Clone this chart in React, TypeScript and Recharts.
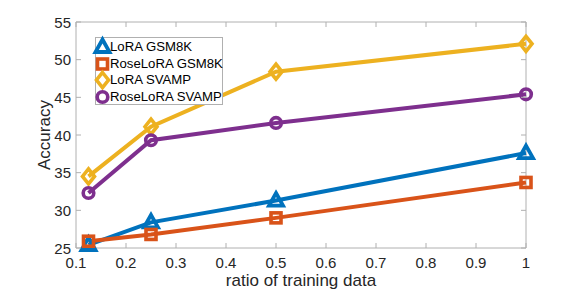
import React from "react";
import { LineChart, Line, XAxis, YAxis, ReferenceLine, Legend } from "recharts";

const ratios = [0.125, 0.25, 0.5, 1];
const loraGsm8k = [25.4, 28.4, 31.3, 37.6];
const roseGsm8k = [25.9, 26.8, 29.0, 33.7];
const loraSvamp = [34.5, 41.1, 48.4, 52.1];
const roseSvamp = [32.3, 39.3, 41.6, 45.4];
const xTicks = [0.1, 0.2, 0.3, 0.4, 0.5, 0.6, 0.7, 0.8, 0.9, 1];
const yTicks = [25, 30, 35, 40, 45, 50, 55];

const data = ratios.map((r, i) => ({
  x: r,
  loraGsm8k: loraGsm8k[i],
  roseGsm8k: roseGsm8k[i],
  loraSvamp: loraSvamp[i],
  roseSvamp: roseSvamp[i],
}));

const W = 581;
const H = 291;
const M = { top: 22, right: 55, bottom: 0, left: 0 };
const YW = 76;
const XH = 43;
const PLOT_W = W - M.left - M.right - YW;
const PLOT_H = H - M.top - M.bottom - XH;

const AXIS = "#b0b0b0";
const TXT = "#262626";
const FONT = "'Liberation Sans', Arial, Helvetica, sans-serif";

const C_BLUE = "#0072BD";
const C_ORANGE = "#D95319";
const C_YELLOW = "#EDB120";
const C_PURPLE = "#7E2F8E";

type Kind = "tri" | "sq" | "dia" | "cir";

function Marker({ kind, cx, cy, color }: { kind: Kind; cx: number; cy: number; color: string }) {
  const sw = 3.6;
  if (kind === "tri") {
    return (
      <path
        d={`M${cx},${cy - 7.5} L${cx + 7},${cy + 5} L${cx - 7},${cy + 5} Z`}
        fill="none"
        stroke={color}
        strokeWidth={3.8}
        strokeLinejoin="miter"
      />
    );
  }
  if (kind === "sq") {
    return <rect x={cx - 5} y={cy - 5} width={10} height={10} fill="none" stroke={color} strokeWidth={sw} />;
  }
  if (kind === "dia") {
    return (
      <path
        d={`M${cx},${cy - 7.5} L${cx + 6},${cy} L${cx},${cy + 7.5} L${cx - 6},${cy} Z`}
        fill="none"
        stroke={color}
        strokeWidth={sw}
      />
    );
  }
  return <circle cx={cx} cy={cy} r={5.3} fill="none" stroke={color} strokeWidth={sw} />;
}

const makeDot = (kind: Kind, color: string) => (props: any) => {
  const { cx, cy, index } = props;
  if (cx == null || cy == null) return <g key={index} />;
  return (
    <g key={`${kind}-${index}`}>
      <Marker kind={kind} cx={cx} cy={cy} color={color} />
    </g>
  );
};

const XTick = (props: any) => {
  const { x, y, payload } = props;
  return (
    <g>
      <line x1={x} y1={y} x2={x} y2={y - 5} stroke={AXIS} strokeWidth={1} />
      <line x1={x} y1={y - PLOT_H} x2={x} y2={y - PLOT_H + 5} stroke={AXIS} strokeWidth={1} />
      <text x={x} y={y + 20} textAnchor="middle" fill={TXT} fontSize={15} fontFamily={FONT}>
        {String(payload.value)}
      </text>
    </g>
  );
};

const YTick = (props: any) => {
  const { x, y, payload } = props;
  return (
    <g>
      <line x1={x} y1={y} x2={x + 5} y2={y} stroke={AXIS} strokeWidth={1} />
      <line x1={x + PLOT_W} y1={y} x2={x + PLOT_W - 5} y2={y} stroke={AXIS} strokeWidth={1} />
      <text x={x - 5} y={y + 5.5} textAnchor="end" fill={TXT} fontSize={15} fontFamily={FONT}>
        {String(payload.value)}
      </text>
    </g>
  );
};

const legendItems: { name: string; kind: Kind; color: string }[] = [
  { name: "LoRA GSM8K", kind: "tri", color: C_BLUE },
  { name: "RoseLoRA GSM8K", kind: "sq", color: C_ORANGE },
  { name: "LoRA SVAMP", kind: "dia", color: C_YELLOW },
  { name: "RoseLoRA SVAMP", kind: "cir", color: C_PURPLE },
];

const LegendBox = () => (
  <div
    style={{
      position: "relative",
      width: 128,
      height: 68,
      border: `1px solid ${AXIS}`,
      background: "#fff",
      boxSizing: "border-box",
    }}
  >
    {legendItems.map((it, i) => (
      <div
        key={it.name}
        style={{
          position: "absolute",
          left: 0,
          top: 1 + i * 16.5,
          height: 16,
          width: 130,
        }}
      >
        <svg width={20} height={18} style={{ position: "absolute", left: -3, top: -1, overflow: "visible" }}>
          <Marker kind={it.kind} cx={9.5} cy={9} color={it.color} />
        </svg>
        <span
          style={{
            position: "absolute",
            left: 14,
            top: 0,
            lineHeight: "16px",
            fontSize: 13.2,
            fontFamily: FONT,
            color: "#000",
            whiteSpace: "nowrap",
          }}
        >
          {it.name}
        </span>
      </div>
    ))}
  </div>
);

export default function App() {
  return (
    <div style={{ position: "absolute", left: 0, top: 0, width: W, height: H, background: "#fff" }}>
      <LineChart width={W} height={H} data={data} margin={M}>
        <XAxis
          dataKey="x"
          type="number"
          domain={[0.1, 1]}
          ticks={xTicks}
          interval={0}
          height={XH}
          tickSize={0}
          tickMargin={0}
          tickLine={false}
          axisLine={{ stroke: AXIS }}
          tick={<XTick />}
          label={{
            content: (p: any) => {
              const vb = p.viewBox || {};
              return (
                <text
                  x={vb.x + vb.width / 2}
                  y={vb.y + 38}
                  textAnchor="middle"
                  fill={TXT}
                  fontSize={17}
                  fontFamily={FONT}
                >
                  ratio of training data
                </text>
              );
            },
          }}
        />
        <YAxis
          type="number"
          domain={[25, 55]}
          ticks={yTicks}
          interval={0}
          width={YW}
          tickSize={0}
          tickMargin={0}
          tickLine={false}
          axisLine={{ stroke: AXIS }}
          tick={<YTick />}
          label={{
            content: (p: any) => {
              const vb = p.viewBox || {};
              const cx = vb.x + 50;
              const cy = vb.y + vb.height / 2;
              return (
                <text
                  x={cx}
                  y={cy}
                  transform={`rotate(-90 ${cx} ${cy})`}
                  textAnchor="middle"
                  fill={TXT}
                  fontSize={17}
                  fontFamily={FONT}
                >
                  Accuracy
                </text>
              );
            },
          }}
        />
        <ReferenceLine y={55} stroke={AXIS} strokeWidth={1} />
        <ReferenceLine x={1} stroke={AXIS} strokeWidth={1} />
        <Line
          dataKey="loraGsm8k"
          name="LoRA GSM8K"
          stroke={C_BLUE}
          strokeWidth={4}
          type="linear"
          dot={makeDot("tri", C_BLUE)}
          activeDot={false}
          isAnimationActive={false}
        />
        <Line
          dataKey="roseGsm8k"
          name="RoseLoRA GSM8K"
          stroke={C_ORANGE}
          strokeWidth={4}
          type="linear"
          dot={makeDot("sq", C_ORANGE)}
          activeDot={false}
          isAnimationActive={false}
        />
        <Line
          dataKey="loraSvamp"
          name="LoRA SVAMP"
          stroke={C_YELLOW}
          strokeWidth={4}
          type="linear"
          dot={makeDot("dia", C_YELLOW)}
          activeDot={false}
          isAnimationActive={false}
        />
        <Line
          dataKey="roseSvamp"
          name="RoseLoRA SVAMP"
          stroke={C_PURPLE}
          strokeWidth={4}
          type="linear"
          dot={makeDot("cir", C_PURPLE)}
          activeDot={false}
          isAnimationActive={false}
        />
        <Legend
          layout="horizontal"
          verticalAlign="middle"
          align="center"
          content={() => <LegendBox />}
          wrapperStyle={{ position: "absolute", left: 95, top: 37, width: 128, height: 68 }}
        />
      </LineChart>
    </div>
  );
}
